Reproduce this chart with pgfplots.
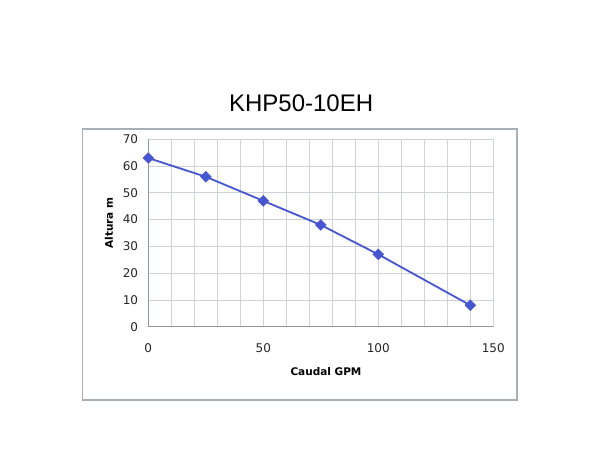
\documentclass[border=0pt]{standalone}
\usepackage{fontspec}
\setmainfont{DejaVu Sans}
\newfontfamily\titlefont{Liberation Sans}
\usepackage{pgfplots}
\pgfplotsset{compat=1.18}
\definecolor{serie}{HTML}{4656D0}
\definecolor{rejilla}{HTML}{CDD3D8}
\definecolor{eje}{HTML}{8E969E}
\definecolor{marco}{HTML}{A8B0B6}
\begin{document}
\begin{tikzpicture}[x=1bp,y=1bp]
\path[use as bounding box,fill=white] (0,0) rectangle (600,469);
\draw[marco,line width=1.5bp] (82.7,69) rectangle (517,340);
\begin{axis}[
    at={(148.3bp,142.3bp)}, anchor=south west,
    scale only axis,
    width=345bp, height=187.4bp,
    xmin=0, xmax=150, ymin=0, ymax=70,
    xtick={0,50,100,150},
    minor xtick={10,20,30,40,60,70,80,90,110,120,130,140},
    ytick={0,10,...,70},
    grid=both,
    major grid style={rejilla,line width=0.8bp},
    minor grid style={rejilla,line width=0.8bp},
    axis x line*=bottom, axis y line*=left,
    axis line style={eje,line width=1bp,-},
    major tick length=0pt, minor tick length=0pt,
    /pgf/number format/assume math mode=true,
    ticklabel style={font=\fontsize{12bp}{14bp}\selectfont,text=black!85},
    yticklabel style={anchor=east,inner sep=0pt,xshift=-10bp},
    xticklabel style={anchor=north,inner sep=0pt,yshift=-17bp},
    xlabel={Caudal GPM},
    ylabel={Altura m},
    xlabel style={at={(axis description cs:0.515,-0.242)},anchor=center,font=\fontsize{10.5bp}{12bp}\selectfont\bfseries},
    ylabel style={at={(axis description cs:-0.114,0.553)},anchor=center,rotate=0,font=\fontsize{10.5bp}{12bp}\selectfont\bfseries},
    title={KHP50-10EH},
    title style={at={(axis description cs:0.443,1.162)},anchor=center,font=\titlefont\fontsize{24bp}{28bp}\selectfont},
    clip=false,
]
\addplot[serie,line width=1.8bp,mark=square*,mark size=3.8bp,mark options={fill=serie,draw=serie,rotate=45,line width=0.5bp}]
  coordinates {(0,63) (25,56) (50,47) (75,38) (100,27) (140,8)};
\end{axis}
\end{tikzpicture}
\end{document}
